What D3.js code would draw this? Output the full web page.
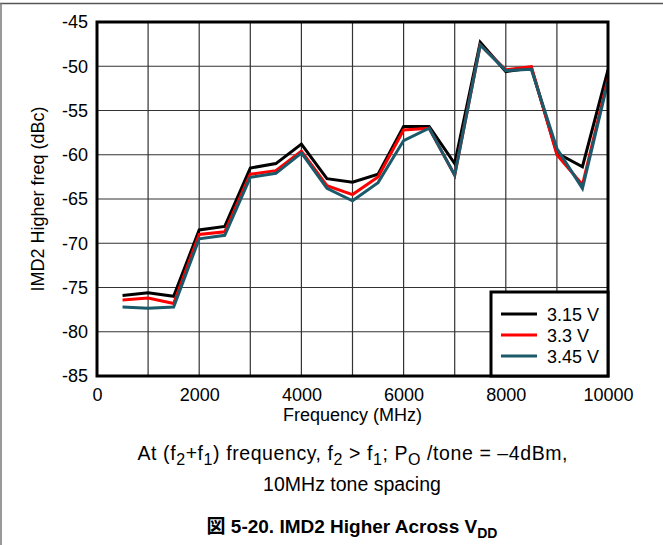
<!DOCTYPE html>
<html><head><meta charset="utf-8">
<script src="https://cdn.jsdelivr.net/npm/d3@7"></script>
<style>
html,body{margin:0;padding:0;background:#fff;}
svg{display:block;font-family:"Liberation Sans",Arial,sans-serif;}
</style></head>
<body>
<svg id="c" width="663" height="545"></svg>
<script>
const freqs = [500,1000,1500,2000,2500,3000,3500,4000,4500,5000,5500,6000,6500,7000,7500,8000,8500,9000,9500,10000];
const v315 = [-75.9,-75.6,-76.0,-68.5,-68.1,-61.5,-61.0,-58.8,-62.7,-63.1,-62.2,-56.8,-56.8,-61.0,-47.3,-50.6,-50.2,-59.8,-61.35,-50.4];
const v330 = [-76.4,-76.2,-76.8,-69.0,-68.7,-62.2,-61.8,-59.6,-63.5,-64.5,-62.5,-57.2,-57.0,-62.3,-47.6,-50.4,-50.05,-60.0,-63.4,-51.4];
const v345 = [-77.2,-77.35,-77.2,-69.5,-69.1,-62.55,-62.1,-59.8,-63.8,-65.2,-63.15,-58.4,-57.0,-62.3,-47.6,-50.5,-50.35,-59.3,-63.8,-51.7];
const seriesNames = ["3.15 V","3.3 V","3.45 V"];
const seriesColors = ["#000000","#ff0000","#1b5a6b"];
const xTicks = [0,2000,4000,6000,8000,10000];
const yTicks = [-45,-50,-55,-60,-65,-70,-75,-80,-85];
const xGrid = [0,1000,2000,3000,4000,5000,6000,7000,8000,9000,10000];

const svg = d3.select("#c");
const L=97, R=608, T=22, B=376;
const x = d3.scaleLinear().domain([0,10000]).range([L,R]);
const y = d3.scaleLinear().domain([-85,-45]).range([B,T]);

// outer frame
svg.append("line").attr("x1",0).attr("x2",663).attr("y1",3.5).attr("y2",3.5).attr("stroke","#555").attr("stroke-width",1.5);
svg.append("line").attr("x1",1).attr("x2",1).attr("y1",3).attr("y2",545).attr("stroke","#777").attr("stroke-width",1.5);

// grid
const g = svg.append("g");
g.selectAll(".vg").data(xGrid).join("line")
  .attr("x1",d=>x(d)).attr("x2",d=>x(d)).attr("y1",T).attr("y2",B)
  .attr("stroke","#333").attr("stroke-width",1.2);
g.selectAll(".hg").data(yTicks).join("line")
  .attr("x1",L).attr("x2",R).attr("y1",d=>y(d)).attr("y2",d=>y(d))
  .attr("stroke","#333").attr("stroke-width",1.2);

// series
const data = [v315,v330,v345];
const line = d3.line().x((d,i)=>x(freqs[i])).y(d=>y(d));
svg.append("defs").append("clipPath").attr("id","clip").append("rect").attr("x",L).attr("y",T).attr("width",R-L).attr("height",B-T);
const lg = svg.append("g").attr("clip-path","url(#clip)");
data.forEach((vals,k)=>{
  lg.append("path").datum(vals).attr("d",line).attr("fill","none")
    .attr("stroke",seriesColors[k]).attr("stroke-width",3).attr("stroke-linejoin","miter");
});

// axes with d3
const yAxis = d3.axisLeft(y).tickValues(yTicks).tickSize(0).tickPadding(9).tickFormat(d=>String(d));
const ya = svg.append("g").attr("transform",`translate(${L},0)`).call(yAxis);
ya.select(".domain").remove();
ya.selectAll("text").attr("font-size",18).attr("fill","#000").attr("font-family","Liberation Sans, Arial, sans-serif");
const xAxis = d3.axisBottom(x).tickValues(xTicks).tickSize(0).tickPadding(12).tickFormat(d=>String(d));
const xa = svg.append("g").attr("transform",`translate(0,${B})`).call(xAxis);
xa.select(".domain").remove();
xa.selectAll("text").attr("font-size",18).attr("fill","#000").attr("font-family","Liberation Sans, Arial, sans-serif");

// plot border
svg.append("rect").attr("x",L).attr("y",T).attr("width",R-L).attr("height",B-T)
  .attr("fill","none").attr("stroke","#000").attr("stroke-width",3);

// legend
const lgX=491, lgY=292, lgW=R-491, lgH=B-292;
svg.append("rect").attr("x",lgX).attr("y",lgY).attr("width",lgW).attr("height",lgH)
  .attr("fill","#fff").attr("stroke","#000").attr("stroke-width",3);
seriesNames.forEach((n,k)=>{
  const yy = 314 + k*21;
  svg.append("line").attr("x1",501).attr("x2",537).attr("y1",yy).attr("y2",yy).attr("stroke",seriesColors[k]).attr("stroke-width",3);
  svg.append("text").attr("x",547).attr("y",yy+6.5).attr("font-size",18).text(n);
});

// axis titles
svg.append("text").attr("x",(L+R)/2).attr("y",421).attr("text-anchor","middle").attr("font-size",18).text("Frequency (MHz)");
svg.append("text").attr("transform","translate(44,199) rotate(-90)").attr("text-anchor","middle").attr("font-size",18).text("IMD2 Higher freq (dBc)");

// caption
const cap = svg.append("text").attr("x",352.5).attr("y",460).attr("text-anchor","middle").attr("font-size",19.5)
  .attr("textLength",430).attr("lengthAdjust","spacing");
const sub = 16;
cap.append("tspan").text("At (f");
cap.append("tspan").attr("font-size",sub).attr("dy",5).text("2");
cap.append("tspan").attr("dy",-5).text("+f");
cap.append("tspan").attr("font-size",sub).attr("dy",5).text("1");
cap.append("tspan").attr("dy",-5).text(") frequency, f");
cap.append("tspan").attr("font-size",sub).attr("dy",5).text("2");
cap.append("tspan").attr("dy",-5).text(" > f");
cap.append("tspan").attr("font-size",sub).attr("dy",5).text("1");
cap.append("tspan").attr("dy",-5).text("; P");
cap.append("tspan").attr("font-size",sub).attr("dy",5).text("O");
cap.append("tspan").attr("dy",-5).text(" /tone = \u20134dBm,");
svg.append("text").attr("x",352).attr("y",491).attr("text-anchor","middle").attr("font-size",19.5).text("10MHz tone spacing");

const tt = svg.append("text").attr("x",352).attr("y",533).attr("text-anchor","middle").attr("font-size",19).attr("font-weight","bold");
tt.append("tspan").attr("font-family","Noto Sans CJK JP").text("図");
tt.append("tspan").text(" 5-20. IMD2 Higher Across V");
tt.append("tspan").attr("font-size",14).attr("dy",5).text("DD");
</script>
</body></html>
